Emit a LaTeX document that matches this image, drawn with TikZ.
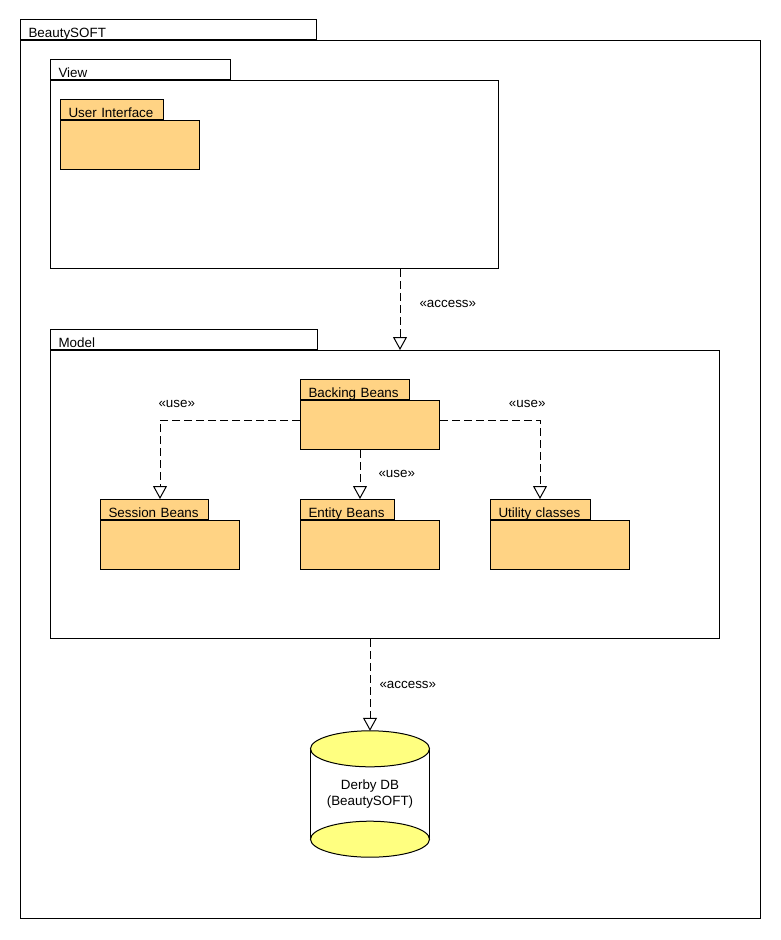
\documentclass[tikz,border=0pt]{standalone}
\usepackage{fontspec}
\setmainfont{Liberation Sans}
\usetikzlibrary{arrows.meta,calc}
\definecolor{pkgfill}{HTML}{FFD384}
\definecolor{dbfill}{HTML}{FFFF80}
\tikzset{
  every node/.style={font=\fontsize{13.4}{16}\selectfont},
  frame/.style={draw=black, line width=1pt, inner sep=0pt},
  pkgbody/.style={frame, anchor=north west},
  pkgtab/.style={frame, anchor=south west, minimum height=20pt, inner xsep=8pt,
    inner ysep=0pt, text height=15pt, text depth=0pt, align=left},
  filled/.style={fill=pkgfill},
  dep/.style={line width=1pt, dash pattern=on 8pt off 4pt,
    -{Triangle[open, length=13pt, width=14pt]}},
  lbl/.style={inner sep=0pt}
}
\begin{document}
\begin{tikzpicture}[x=1pt, y=-1pt]
\useasboundingbox (0,0) rectangle (780,940);

% system package
\node[pkgbody, minimum width=740pt, minimum height=878pt] (sys) at (20,40) {};
\node[pkgtab, text width=280pt] (systab) at (sys.north west) {BeautySOFT};

% View layer
\node[pkgbody, minimum width=448pt, minimum height=188pt] (view) at (50,80) {};
\node[pkgtab, text width=164pt] (viewtab) at (view.north west) {View};
\node[pkgbody, filled, minimum width=139pt, minimum height=49pt] (ui) at (60,120) {};
\node[pkgtab, filled, text width=87pt] (uitab) at (ui.north west) {User~Interface};

% Model layer
\node[pkgbody, minimum width=669pt, minimum height=288pt] (model) at (50,350) {};
\node[pkgtab, text width=251pt] (modeltab) at (model.north west) {Model};

\node[pkgbody, filled, minimum width=139pt, minimum height=49pt] (bb) at (300,400) {};
\node[pkgtab, filled, text width=93pt] (bbtab) at (bb.north west) {Backing~Beans};

\node[pkgbody, filled, minimum width=139pt, minimum height=49pt] (sb) at (100,520) {};
\node[pkgtab, filled, text width=92pt] (sbtab) at (sb.north west) {Session~Beans};

\node[pkgbody, filled, minimum width=139pt, minimum height=49pt] (eb) at (300,520) {};
\node[pkgtab, filled, text width=78pt] (ebtab) at (eb.north west) {Entity~Beans};

\node[pkgbody, filled, minimum width=139pt, minimum height=49pt] (uc) at (490,520) {};
\node[pkgtab, filled, text width=84pt] (uctab) at (uc.north west) {Utility~classes};

% database cylinder
\node[lbl, align=center, minimum width=119pt, minimum height=126pt] (db) at (370,794)
  {Derby DB\\(BeautySOFT)};
\draw[frame] ([yshift=-18pt]db.north west) -- ([yshift=18pt]db.south west);
\draw[frame] ([yshift=-18pt]db.north east) -- ([yshift=18pt]db.south east);
\draw[frame, fill=dbfill] ([yshift=18pt]db.south) ellipse [x radius=59.5pt, y radius=18pt];
\draw[frame, fill=dbfill] ([yshift=-18pt]db.north) ellipse [x radius=59.5pt, y radius=18pt];

% dependencies
\draw[dep] ([xshift=350pt]view.south west) --
  node[lbl, anchor=west, pos=0.43, xshift=19pt] {«access»}
  ([xshift=350pt]model.north west);
\draw[dep] ([yshift=-20pt]bb.north west) -|
  node[lbl, pos=0.44, yshift=16pt] {«use»}
  ([xshift=60pt]sbtab.north west);
\draw[dep] ([yshift=-20pt]bb.north east) -|
  node[lbl, pos=0.436, yshift=16pt] {«use»}
  ([xshift=50pt]uctab.north west);
\draw[dep] ([xshift=60pt]bb.south west) --
  node[lbl, anchor=west, pos=0.48, xshift=18pt] {«use»}
  ([xshift=60pt]ebtab.north west);
\draw[dep] ([xshift=320pt]model.south west) --
  node[lbl, anchor=west, pos=0.5, xshift=9pt] {«access»}
  (db.north);
\end{tikzpicture}
\end{document}
